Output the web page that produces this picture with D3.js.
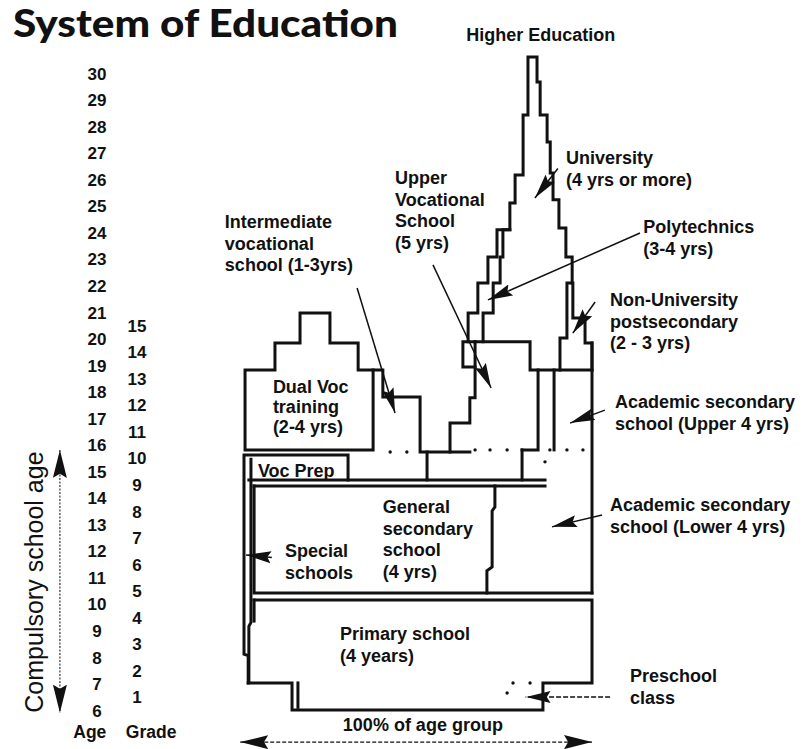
<!DOCTYPE html>
<meta charset="utf-8">
<style>
  body { margin: 0; background: #fff; }
  text { fill: #111; }
</style>
<body>
<script src="https://cdn.jsdelivr.net/npm/d3@7"></script>
<script>

var width = 805,
    height = 749;

// ages and grades on the left
var ages = d3.range(6, 31);
var grades = d3.range(1, 16);

// every outline is a list of [percent of age group, age]
var primarySchool = [[2.9,10.14],[100,10.14],[100,7.02],[85.9,7.02],[85.9,6.0],[13.8,6.0],[13.8,7.02],[1.2,7.02]];
var specialOuter = [[1.2,7.02],[1.2,8.05],[0,8.1],[0,15.61],[29.9,15.61],[29.9,14.67]];
var specialInner = [[1.4,7.1],[1.4,9.15],[2.0,9.3],[2.0,15.45]];
var primaryLeft = [[2.9,10.14],[2.9,9.35]];
var preschoolTick = [[15.5,7.02],[15.5,6.1]];
var vocPrepBase = [[1.4,14.67],[86.5,14.67]];
var generalTop = [[2.9,14.44],[86.5,14.44]];
var generalBox = [[2.9,14.44],[2.9,10.41],[100,10.41]];
var rightEdge = [[100,19.83],[100,10.41]];
var generalDivider = [[72.1,14.44],[72.1,13.65],[71.3,13.5],[71.3,11.39],[69.8,11.25],[69.8,10.41]];
var bandDividerA = [[52.6,15.72],[52.6,14.67]];
var bandDividerB = [[79.9,15.8],[79.9,14.67]];
var dualVoc = [[0.3,15.8],[0.3,18.81],[8.9,18.81],[8.9,19.83],[16.1,19.83],[16.1,20.96],[24.7,20.96],
               [24.7,19.83],[32.8,19.83],[32.8,18.81],[37.1,18.81],[37.1,15.8],[0.3,15.8]];
var intermediate = [[37.1,18.81],[39.9,18.81],[39.9,17.79],[50.6,17.79],[50.6,15.72],[64.9,15.72]];
var upperVocStairs = [[59.2,15.72],[59.2,16.81],[64.9,16.81],[64.9,17.76],[66.4,17.76],[66.4,19.87]];
var upperVocNotch = [[66.4,18.92],[62.9,18.92],[62.9,19.87],[66.4,19.87]];
var peakOuter = [[64.4,19.87],[64.4,20.96],[67.2,20.96],[67.2,22.09],[70.1,22.09],[70.1,23.07],[72.7,23.07],
                 [72.7,24.09],[76.4,24.09],[76.4,25.10],[77.9,25.10],[77.9,26.16],[80.2,26.16],[80.2,28.42],
                 [81.6,28.42],[81.6,30.6],[84.2,30.6],[84.2,29.66],[85.1,29.66],[85.1,28.42],[87.1,28.42],
                 [87.1,27.40],[88.0,27.40],[88.0,26.23],[88.8,26.23],[88.8,25.22],[90.5,25.22],[90.5,24.16],
                 [92.5,24.16],[92.5,23.07],[94.3,23.07],[94.3,22.09]];
var polyInner = [[68.7,19.87],[68.7,20.96],[71.6,20.96],[71.6,22.09],[73.6,22.09],[73.6,23.07],[74.4,23.07],
                 [74.4,24.09],[76.4,24.09]];
var upperVocBox = [[66.4,19.87],[82.2,19.87],[82.2,18.81],[84.5,18.81],[84.5,15.8],[79.9,15.8]];
var universityBase = [[84.5,18.81],[100,18.81]];
var nonUniversity = [[90.8,18.81],[90.8,20.02],[92.8,20.02],[92.8,22.09],[94.5,22.09],[94.5,20.77],
                     [98.0,20.77],[98.0,19.83],[100,19.83],[100,18.81]];
var academicUpperLeft = [[89.1,18.81],[89.1,15.8]];

var outlines = [primarySchool, specialOuter, specialInner, primaryLeft, preschoolTick, vocPrepBase,
                generalTop, generalBox, rightEdge, generalDivider, bandDividerA, bandDividerB, dualVoc,
                intermediate, upperVocStairs, upperVocNotch, peakOuter, polyInner, upperVocBox,
                universityBase, nonUniversity, academicUpperLeft];

var dots = [[42,15.72],[46.8,15.72],[66.4,15.8],[70.7,15.8],[75.6,15.8],[87.9,15.8],[92.8,15.8],
            [97.4,15.8],[86.5,15.35],[77.3,7.02],[82.2,7.02],[75.6,6.64]];

// label arrows: tail -> tip
var arrows = [
  [[32.5,21.9],[43.4,17.19]],
  [[54.3,22.77],[71.0,18.13]],
  [[113.8,23.97],[70.1,21.45]],
  [[90.2,26.4],[83.6,25.29]],
  [[100.9,21.37],[94.5,20.2]],
  [[103.7,17.3],[93.7,16.81]],
  [[102.9,13.35],[88.5,12.9]],
  [[8.0,11.75],[0.6,11.84]]
];
var preschoolArrow = [[105.2,6.49],[80.9,6.49]];
var groupArrow = [[-1.1,4.79],[100,4.79]];
var compulsoryArrow = [[-52.9,15.8],[-52.9,5.9]];

var labels = [
  {text: ["Higher Education"], at: [85.3,31.21], anchor: "middle"},
  {text: ["Intermediate", "vocational", "school (1-3yrs)"], at: [-5.5,24.16]},
  {text: ["Upper", "Vocational", "School", "(5 yrs)"], at: [43.4,25.82]},
  {text: ["University", "(4 yrs or more)"], at: [92.5,26.57]},
  {text: ["Polytechnics", "(3-4 yrs)"], at: [114.7,23.97]},
  {text: ["Non-University", "postsecondary", "(2 - 3 yrs)"], at: [105.2,21.22]},
  {text: ["Academic secondary", "school (Upper 4 yrs)"], at: [106.6,17.38]},
  {text: ["Academic secondary", "school (Lower 4 yrs)"], at: [105.2,13.5]},
  {text: ["Preschool", "class"], at: [110.9,7.05]},
  {text: ["Dual Voc", "training", "(2-4 yrs)"], at: [8.3,17.94], gap: "1.1em"},
  {text: ["Voc Prep"], at: [4.0,14.78]},
  {text: ["General", "secondary", "school", "(4 yrs)"], at: [39.9,13.42]},
  {text: ["Special", "schools"], at: [11.8,11.76]},
  {text: ["Primary school", "(4 years)"], at: [27.6,8.64]},
  {text: ["100% of age group"], at: [51.4,5.21], anchor: "middle"}
];

var svg = d3.select("body").append("svg")
    .attr("width", width)
    .attr("height", height)
    .style("font-family", "'Liberation Sans', Arial, sans-serif");

var x = d3.scaleLinear().domain([0, 100]).range([244, 592]);
var y = d3.scaleLinear().domain([6, 30]).range([710, 73]);
var yGrade = d3.scaleLinear().domain([1, 15]).range([y(6.5), y(20.5)]);

var line = d3.line()
    .x(function(d) { return x(d[0]); })
    .y(function(d) { return y(d[1]); });

// arrow heads
var defs = svg.append("defs");
function head(id, len, half) {
  defs.append("marker")
      .attr("id", id)
      .attr("markerUnits", "userSpaceOnUse")
      .attr("viewBox", (-len) + " " + (-half) + " " + len + " " + (2 * half))
      .attr("refX", 0).attr("refY", 0)
      .attr("markerWidth", len).attr("markerHeight", 2 * half)
      .attr("orient", "auto-start-reverse")
    .append("path")
      .attr("d", "M0,0L" + (-len) + "," + (-half) + "L" + (-len * 0.85) + ",0L" + (-len) + "," + half + "Z")
      .attr("fill", "#111");
}
head("head", 25, 6);
head("bighead", 28, 7);

// TITLE
svg.append("text")
    .attr("x", 13).attr("y", 37)
    .attr("textLength", 385)
    .attr("lengthAdjust", "spacingAndGlyphs")
    .style("font-family", "Lato, 'Open Sans', sans-serif")
    .style("font-weight", 900)
    .style("font-size", "37px")
    .text("System of Education");

// AGE AND GRADE COLUMNS
var ageAxis = svg.append("g")
    .attr("transform", "translate(97,0)")
    .call(d3.axisLeft(y).tickValues(ages).tickSize(0).tickFormat(d3.format("d")));
var gradeAxis = svg.append("g")
    .attr("transform", "translate(137,0)")
    .call(d3.axisLeft(yGrade).tickValues(grades).tickSize(0).tickFormat(d3.format("d")));
[ageAxis, gradeAxis].forEach(function(g) {
  g.select(".domain").remove();
  g.selectAll("text")
      .attr("x", 0)
      .attr("dy", "0.36em")
      .attr("text-anchor", "middle")
      .attr("fill", "#111")
      .style("font-family", "'Liberation Sans', Arial, sans-serif")
      .style("font-size", "17px")
      .style("font-weight", "bold");
});

svg.append("text").attr("x", x(-44.3)).attr("y", 738)
    .attr("text-anchor", "middle")
    .style("font-size", "17.5px").style("font-weight", "bold")
    .text("Age");
svg.append("text").attr("x", x(-26.7)).attr("y", 738)
    .attr("text-anchor", "middle")
    .style("font-size", "17.5px").style("font-weight", "bold")
    .text("Grade");

// compulsory school age
svg.append("path")
    .attr("d", line(compulsoryArrow))
    .attr("fill", "none")
    .attr("stroke", "#333")
    .attr("stroke-width", 1.2)
    .attr("stroke-dasharray", "2,1.5")
    .attr("marker-start", "url(#bighead)")
    .attr("marker-end", "url(#bighead)");
svg.append("text")
    .attr("transform", "translate(" + x(-57.8) + "," + y(10.82) + ") rotate(-90)")
    .attr("text-anchor", "middle")
    .style("font-size", "25px")
    .text("Compulsory school age");

// OUTLINES
svg.append("g").selectAll("path")
    .data(outlines)
    .enter()
    .append("path")
    .attr("d", line)
    .attr("fill", "none")
    .attr("stroke", "#111")
    .attr("stroke-width", 3)
    .attr("stroke-linejoin", "miter")
    .attr("stroke-linecap", "square");

svg.append("g").selectAll("circle")
    .data(dots)
    .enter()
    .append("circle")
    .attr("cx", function(d) { return x(d[0]); })
    .attr("cy", function(d) { return y(d[1]); })
    .attr("r", 1.7)
    .attr("fill", "#111");

// ARROWS
svg.append("g").selectAll("path")
    .data(arrows)
    .enter()
    .append("path")
    .attr("d", line)
    .attr("fill", "none")
    .attr("stroke", "#111")
    .attr("stroke-width", 1.5)
    .attr("marker-end", "url(#head)");

svg.append("path")
    .attr("d", line(preschoolArrow))
    .attr("fill", "none")
    .attr("stroke", "#111")
    .attr("stroke-width", 1.3)
    .attr("stroke-dasharray", "5,2")
    .attr("marker-end", "url(#head)");

svg.append("path")
    .attr("d", line(groupArrow))
    .attr("fill", "none")
    .attr("stroke", "#111")
    .attr("stroke-width", 1.3)
    .attr("stroke-dasharray", "4,2")
    .attr("marker-start", "url(#bighead)")
    .attr("marker-end", "url(#bighead)");

// LABELS
var lab = svg.append("g").selectAll("text")
    .data(labels)
    .enter()
    .append("text")
    .attr("x", function(d) { return x(d.at[0]); })
    .attr("y", function(d) { return y(d.at[1]); })
    .attr("text-anchor", function(d) { return d.anchor || "start"; })
    .style("font-size", "18px")
    .style("font-weight", "bold");

lab.each(function(d) {
  var t = d3.select(this);
  d.text.forEach(function(s, i) {
    t.append("tspan")
        .attr("x", x(d.at[0]))
        .attr("dy", i ? (d.gap || "1.2em") : 0)
        .text(s);
  });
});

</script>
